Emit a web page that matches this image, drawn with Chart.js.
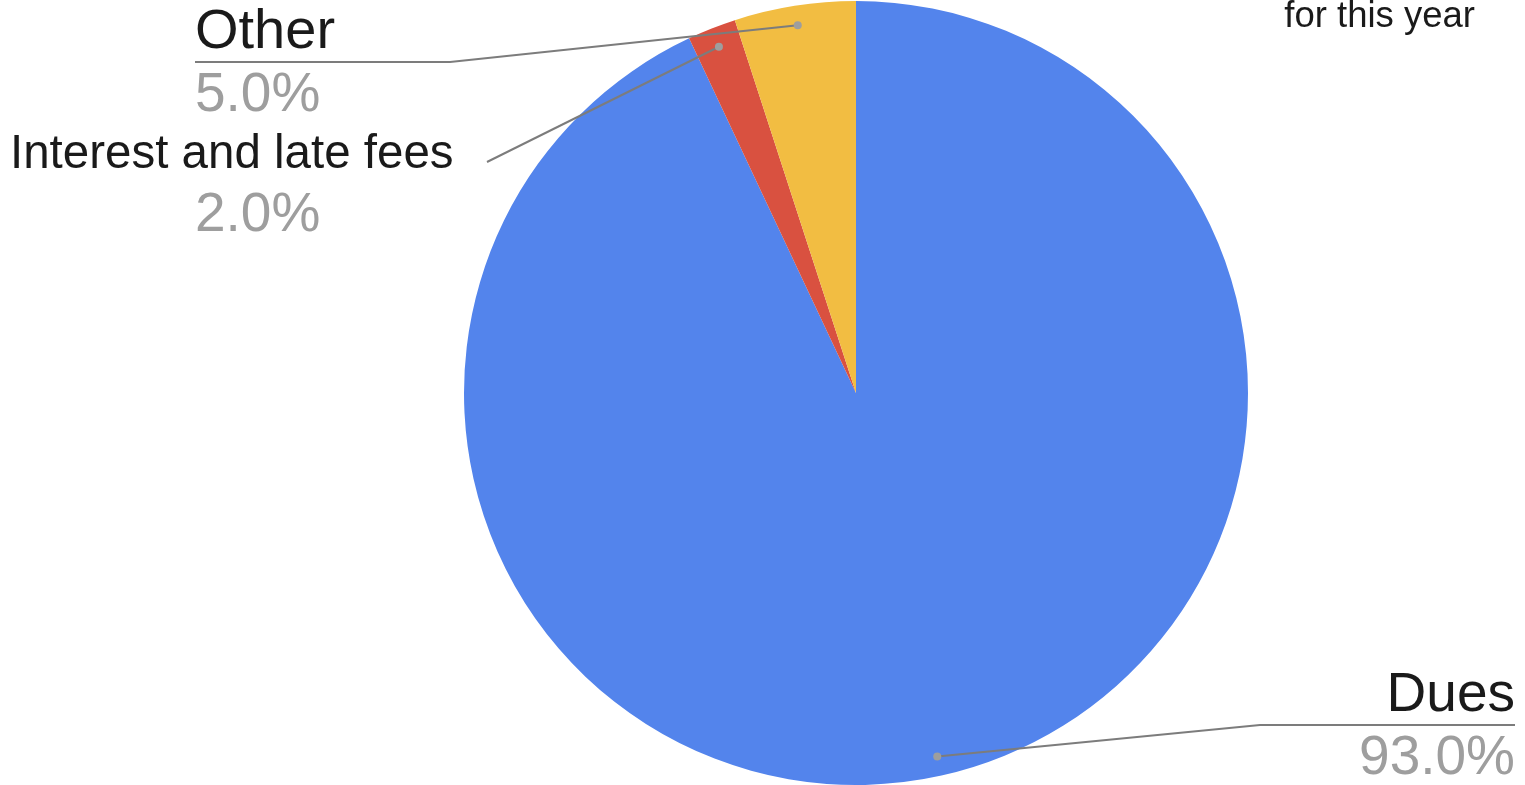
<!DOCTYPE html>
<html>
<head>
<meta charset="utf-8">
<script src="https://cdn.jsdelivr.net/npm/chart.js@4"></script>
<style>
	html, body { margin: 0; padding: 0; background: #fff; overflow: hidden; }
	#wrap { position: relative; width: 1525px; height: 785px; }
</style>
</head>
<body>
<div id="wrap"><canvas id="mycanvas" width="1525" height="785"></canvas></div>
<script>
var categories = ['Dues', 'Interest and late fees', 'Other'];
var values = [93, 2, 5];
var colors = ['#5384ec', '#d95140', '#f2bd42'];
var titleText = 'for this year';

// where each label sits (x, baseline y, align, font size of name, bend of leader line)
var labelSpots = [
	{ x: 1515, y: 711, align: 'right', size: 55, bend: 1260, under: true },
	{ x: 10, y: 168, align: 'left', size: 47.5, pctX: 195, bend: 487, under: false },
	{ x: 195, y: 48, align: 'left', size: 56, bend: 450, under: true }
];

var FONT = '"Liberation Sans", Arial, sans-serif';

var calloutPlugin = {
	id: 'callouts',
	afterDraw: function(chart) {
		var ctx = chart.ctx;
		var meta = chart.getDatasetMeta(0);
		var total = values.reduce(function(a, b) { return a + b; }, 0);
		ctx.save();
		meta.data.forEach(function(arc, i) {
			var p = arc.getProps(['x', 'y', 'startAngle', 'endAngle', 'outerRadius'], true);
			var mid = (p.startAngle + p.endAngle) / 2;
			var dx = p.x + Math.cos(mid) * p.outerRadius * 0.95;
			var dy = p.y + Math.sin(mid) * p.outerRadius * 0.95;
			var s = labelSpots[i];
			var lineY = s.under ? s.y + 14 : s.y - 6;

			ctx.strokeStyle = '#7c7c7c';
			ctx.lineWidth = 2;
			ctx.beginPath();
			ctx.moveTo(dx, dy);
			ctx.lineTo(s.bend, lineY);
			if (s.under) {
				ctx.lineTo(s.x, lineY);
			}
			ctx.stroke();

			ctx.fillStyle = '#9e9e9e';
			ctx.beginPath();
			ctx.arc(dx, dy, 4, 0, Math.PI * 2);
			ctx.fill();

			ctx.textAlign = s.align;
			ctx.textBaseline = 'alphabetic';
			ctx.fillStyle = '#1a1a1a';
			ctx.font = s.size + 'px ' + FONT;
			ctx.fillText(categories[i], s.x, s.y);

			ctx.fillStyle = '#9e9e9e';
			ctx.font = '55px ' + FONT;
			var pct = (values[i] / total * 100).toFixed(1) + '%';
			ctx.fillText(pct, s.pctX || s.x, s.y + 63);
		});

		ctx.textAlign = 'right';
		ctx.fillStyle = '#1a1a1a';
		ctx.font = '36.5px ' + FONT;
		ctx.fillText(titleText, 1475, 27);
		ctx.restore();
	}
};

var ctx = document.getElementById('mycanvas');
var pieChart = new Chart(ctx, {
	type: 'pie',
	data: {
		labels: categories,
		datasets: [{
			data: values,
			backgroundColor: colors,
			borderWidth: 0
		}]
	},
	options: {
		responsive: false,
		maintainAspectRatio: false,
		animation: false,
		layout: { padding: { left: 464, right: 277, top: 1, bottom: 0 } },
		plugins: {
			legend: { display: false },
			tooltip: { enabled: false }
		}
	},
	plugins: [calloutPlugin]
});
</script>
</body>
</html>
